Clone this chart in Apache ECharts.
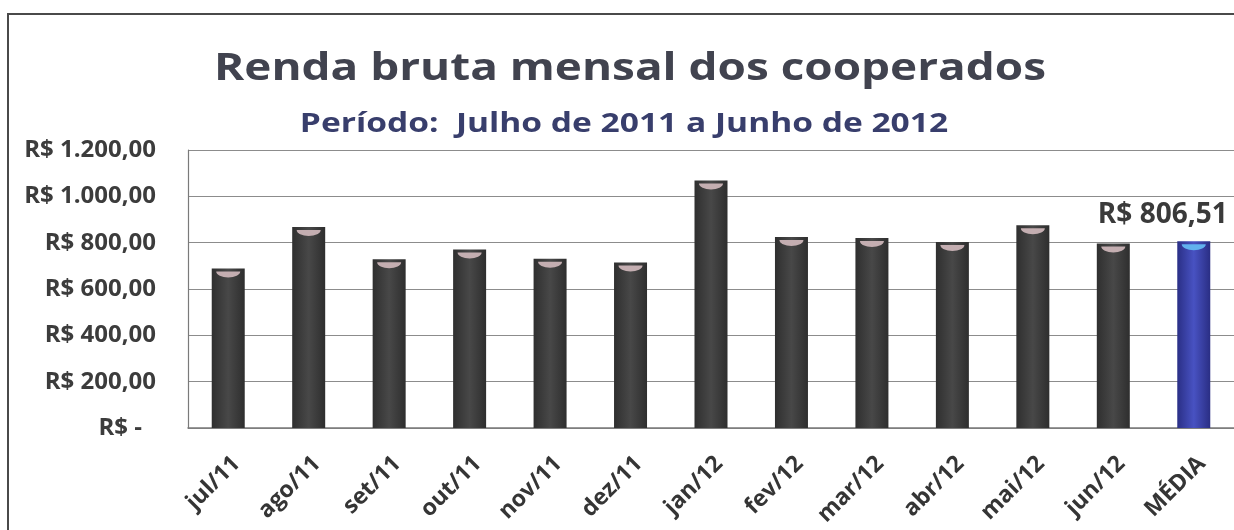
<!DOCTYPE html>
<html>
<head>
<meta charset="utf-8">
<script src="https://cdn.jsdelivr.net/npm/echarts@6/dist/echarts.min.js"></script>
<style>
  html, body { margin: 0; padding: 0; background: #ffffff; overflow: hidden; }
  #chart { width: 1234px; height: 530px; }
</style>
</head>
<body>
<div id="chart"></div>
<script>
// Monthly gross income per member (R$), Jul/2011 – Jun/2012, plus the period average
const months = ['jul/11', 'ago/11', 'set/11', 'out/11', 'nov/11', 'dez/11',
                'jan/12', 'fev/12', 'mar/12', 'abr/12', 'mai/12', 'jun/12'];
const monthlyIncome = [688, 868, 728, 770, 731, 714, 1068, 824, 820, 803, 875, 796];
const averageLabel = 'MÉDIA';
const averageIncome = 806.51;
const yTicks = [0, 200, 400, 600, 800, 1000, 1200];

const categories = months.concat([averageLabel]);
const values = monthlyIncome.concat([averageIncome]);

const FONT = '"Open Sans", "Noto Sans", sans-serif';

function brl(v, decimals) {
  const fixed = Number(v).toFixed(decimals);
  let [intPart, dec] = fixed.split('.');
  intPart = intPart.replace(/\B(?=(\d{3})+(?!\d))/g, '.');
  return 'R$ ' + intPart + ',' + dec;
}

const darkBody = {
  type: 'linear', x: 0, y: 0, x2: 1, y2: 0,
  colorStops: [
    { offset: 0, color: '#2f2f2f' },
    { offset: 0.5, color: '#484848' },
    { offset: 1, color: '#2e2e2e' }
  ]
};
const blueBody = {
  type: 'linear', x: 0, y: 0, x2: 1, y2: 0,
  colorStops: [
    { offset: 0, color: '#2a2f86' },
    { offset: 0.5, color: '#4852c2' },
    { offset: 1, color: '#2a2e84' }
  ]
};

const lastIndex = values.length - 1;

const barData = values.map((v, i) => ({
  value: v,
  itemStyle: { color: i === lastIndex ? blueBody : darkBody },
  label: { show: i === lastIndex }
}));

// lit crescent on the top of each cylinder
const capData = values.map((v, i) => ({
  value: v,
  itemStyle: { color: i === lastIndex ? '#62b2ee' : '#c4aeb1' }
}));

const chart = echarts.init(document.getElementById('chart'), null, { renderer: 'canvas' });

chart.setOption({
  animation: false,
  backgroundColor: '#ffffff',
  graphic: [
    {
      type: 'rect',
      shape: { x: 8, y: 14, width: 1400, height: 700 },
      style: { fill: 'none', stroke: '#4a4a4a', lineWidth: 2 },
      z: -1
    },
    {
      type: 'text',
      x: 630, y: 69, scaleX: 1.24,
      style: {
        text: 'Renda bruta mensal dos cooperados',
        font: 'bold 37px ' + FONT,
        fill: '#41434f',
        textAlign: 'center',
        textVerticalAlign: 'middle'
      }
    },
    {
      type: 'text',
      x: 624, y: 125, scaleX: 1.29,
      style: {
        text: 'Período:  Julho de 2011 a Junho de 2012',
        font: 'bold 26px ' + FONT,
        fill: '#383e6c',
        textAlign: 'center',
        textVerticalAlign: 'middle'
      }
    }
  ],
  grid: { left: 188, top: 150, width: 1048, height: 278, containLabel: false },
  xAxis: {
    type: 'category',
    data: categories,
    axisLine: { show: true, lineStyle: { color: '#7a7a7a', width: 1.5 } },
    axisTick: { show: false },
    axisLabel: {
      rotate: 45,
      margin: 24,
      interval: 0,
      verticalAlign: 'top',
      fontFamily: FONT,
      fontWeight: 'bold',
      fontSize: 23,
      color: '#353535'
    },
    splitLine: { show: false }
  },
  yAxis: {
    type: 'value',
    min: yTicks[0],
    max: yTicks[yTicks.length - 1],
    interval: yTicks[1] - yTicks[0],
    axisLine: { show: true, lineStyle: { color: '#7a7a7a', width: 1.2 } },
    axisTick: { show: false },
    axisLabel: {
      margin: 32,
      fontFamily: FONT,
      fontWeight: 'bold',
      fontSize: 24,
      color: '#3c3c3c',
      formatter: v => v === 0 ? '{z|R$ -}' : brl(v, 2),
      rich: {
        z: { fontFamily: FONT, fontWeight: 'bold', fontSize: 24, color: '#3c3c3c', padding: [0, 14, 0, 0] }
      }
    },
    splitLine: { show: true, lineStyle: { color: '#8c8c8c', width: 1.2 } }
  },
  series: [
    {
      type: 'bar',
      data: barData,
      barWidth: 33,
      z: 2,
      label: {
        position: 'top',
        distance: 12,
        offset: [-31, 0],
        fontFamily: FONT,
        fontWeight: 'bold',
        fontSize: 28,
        color: '#3a3a3a',
        formatter: p => brl(p.value, 2)
      }
    },
    {
      type: 'pictorialBar',
      data: capData,
      symbol: 'path://M0,0 L20,0 A10,5 0 0 1 0,0 Z',
      symbolSize: [24, 6],
      symbolPosition: 'end',
      symbolOffset: [0, 3],
      barGap: '-100%',
      z: 3,
      silent: true
    }
  ]
});
</script>
</body>
</html>
